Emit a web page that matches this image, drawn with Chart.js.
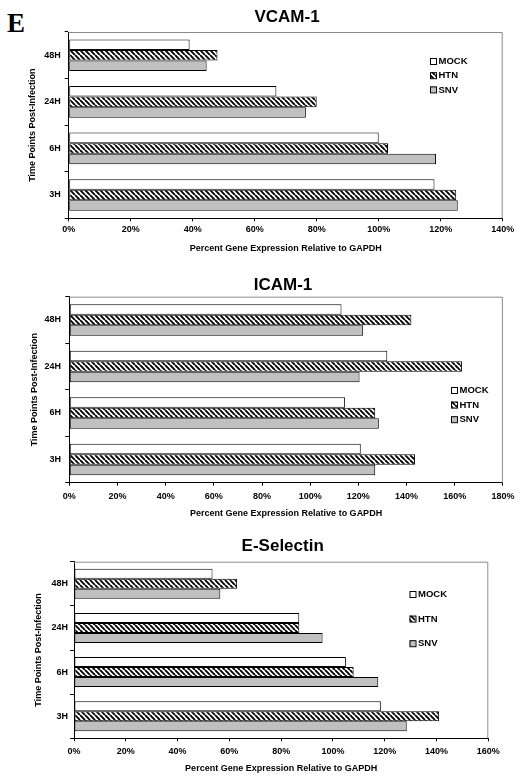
<!DOCTYPE html>
<html><head><meta charset="utf-8">
<script src="https://cdn.jsdelivr.net/npm/chart.js@4"></script>
<style>
html,body{margin:0;padding:0;background:#fff;}
#wrap{position:relative;width:520px;height:778px;overflow:hidden;}
canvas{position:absolute;left:0;}
#E{position:absolute;left:7px;top:10px;font-family:'Liberation Serif','DejaVu Serif',serif;font-weight:bold;font-size:27px;line-height:27px;color:#000;}
</style></head><body>
<div id="wrap">
<div id="E">E</div>
<canvas id="c1" width="520" height="260" style="top:0px"></canvas>
<canvas id="c2" width="520" height="260" style="top:260px"></canvas>
<canvas id="c3" width="520" height="258" style="top:520px"></canvas>
</div>
<script>
// ---- data ----
const categories = ['48H', '24H', '6H', '3H'];
const seriesNames = ['MOCK', 'HTN', 'SNV'];
const xTickSuffix = '%';
const yAxisTitle = 'Time Points Post-Infection';
const xAxisTitle = 'Percent Gene Expression Relative to GAPDH';

const vcamTitle = 'VCAM-1';
const vcamMax = 140;
const vcamMock = [39, 67, 100, 118];
const vcamHtn  = [48, 80, 103, 125];
const vcamSnv  = [44.5, 76.5, 118.5, 125.5];

const icamTitle = 'ICAM-1';
const icamMax = 180;
const icamMock = [113, 132, 114.5, 121];
const icamHtn  = [142, 163, 127, 143.5];
const icamSnv  = [122, 120.5, 128.5, 127];

const eselTitle = 'E-Selectin';
const eselMax = 160;
const eselMock = [53.5, 87, 105, 118.5];
const eselHtn  = [63, 87, 108, 141];
const eselSnv  = [56.5, 96, 117.5, 128.5];

// ---- styling ----
Chart.defaults.font.family = "'Liberation Sans', Arial, sans-serif";
Chart.defaults.color = '#000';

function hatch() {
  const p = 5;
  const c = document.createElement('canvas');
  c.width = p; c.height = p;
  const g = c.getContext('2d');
  g.fillStyle = '#fff'; g.fillRect(0, 0, p, p);
  g.strokeStyle = '#000'; g.lineWidth = 1.9;
  g.beginPath();
  for (let k = -1; k <= 1; k++) { g.moveTo(k * p, 0); g.lineTo(k * p + p, p); }
  g.stroke();
  return g.createPattern(c, 'repeat');
}
const HATCH = hatch();
const fills = ['#ffffff', HATCH, '#c0c0c0'];

const decor = {
  id: 'decor',
  afterDraw(chart, args, o) {
    const ctx = chart.ctx, a = chart.chartArea;
    ctx.save();
    // top/right frame
    ctx.strokeStyle = '#8a8a8a'; ctx.lineWidth = 1;
    ctx.beginPath();
    ctx.moveTo(a.left, a.top + 0.5); ctx.lineTo(a.right - 0.5, a.top + 0.5); ctx.lineTo(a.right - 0.5, a.bottom);
    ctx.stroke();
    // title
    ctx.fillStyle = '#000';
    ctx.font = "bold 17px 'Liberation Sans', Arial, sans-serif";
    ctx.textAlign = 'center'; ctx.textBaseline = 'middle';
    ctx.fillText(o.title, o.titleX, o.titleY);
    // legend
    ctx.font = "bold 9.5px 'Liberation Sans', Arial, sans-serif";
    ctx.textAlign = 'left';
    seriesNames.forEach((n, i) => {
      const y = o.legendY + i * o.legendGap;
      ctx.fillStyle = fills[i];
      ctx.fillRect(o.legendX, y - 3, 6, 6);
      ctx.strokeStyle = '#000'; ctx.lineWidth = 1;
      ctx.strokeRect(o.legendX + 0.5, y - 3 + 0.5, 6, 6);
      ctx.fillStyle = '#000';
      ctx.fillText(n, o.legendX + 8.5, y + 0.5);
    });
    ctx.restore();
  }
};

function makeChart(id, title, max, mock, htn, snv, g) {
  const canvas = document.getElementById(id);
  const H = canvas.height;
  const data = [mock, htn, snv];
  return new Chart(canvas, {
    type: 'bar',
    data: {
      labels: categories,
      datasets: seriesNames.map((n, i) => ({
        label: n,
        data: data[i],
        backgroundColor: fills[i],
        borderColor: '#000',
        borderWidth: 1,
        borderSkipped: false,
        barPercentage: 1,
        categoryPercentage: 0.68
      }))
    },
    options: {
      indexAxis: 'y',
      responsive: false,
      animation: false,
      devicePixelRatio: 1,
      layout: { padding: { top: g.T, right: 520 - g.R, left: 0, bottom: 0 } },
      plugins: {
        legend: { display: false },
        title: { display: false },
        tooltip: { enabled: false },
        decor: { title: title, titleX: g.titleX, titleY: g.titleY, legendX: g.legendX, legendY: g.legendY, legendGap: g.legendGap }
      },
      scales: {
        x: {
          min: 0, max: max,
          ticks: { stepSize: 20, padding: g.xPad, font: { size: 9, weight: 'bold' }, color: '#000', callback: v => v + xTickSuffix, maxRotation: 0 },
          grid: { drawOnChartArea: false, drawTicks: true, tickLength: 3, color: '#000' },
          border: { display: true, color: '#000', width: 1 },
          title: { display: true, text: xAxisTitle, font: { size: 9, weight: 'bold' }, color: '#000', padding: { top: 0, bottom: g.xTitleBottom } },
          afterFit: s => { s.height = H - g.B; }
        },
        y: {
          ticks: { padding: g.yPad, font: { size: 9, weight: 'bold' }, color: '#000' },
          grid: { drawOnChartArea: false, drawTicks: true, tickLength: 4, color: '#000', offset: true },
          border: { display: true, color: '#000', width: 1 },
          title: { display: true, text: yAxisTitle, font: { size: 9, weight: 'bold' }, color: '#000', padding: { top: g.yTitleTop, bottom: 0 } },
          afterFit: s => { s.width = g.L; }
        }
      }
    },
    plugins: [decor]
  });
}

makeChart('c1', vcamTitle, vcamMax, vcamMock, vcamHtn, vcamSnv,
  { L: 68.7, R: 502.7, T: 32, B: 218.3, titleX: 287, titleY: 17, legendX: 430, legendY: 61, legendGap: 14.2,
    xPad: 3.3, xTitleBottom: 6.3, yPad: 4, yTitleTop: 27.6 });
makeChart('c2', icamTitle, icamMax, icamMock, icamHtn, icamSnv,
  { L: 69.3, R: 503.3, T: 36.7, B: 222.7, titleX: 283, titleY: 25, legendX: 451, legendY: 130, legendGap: 14.6,
    xPad: 5.6, xTitleBottom: 1.3, yPad: 4.3, yTitleTop: 29.6 });
makeChart('c3', eselTitle, eselMax, eselMock, eselHtn, eselSnv,
  { L: 74, R: 488.3, T: 41.7, B: 218.3, titleX: 282.7, titleY: 26.7, legendX: 409.5, legendY: 74, legendGap: 24.6,
    xPad: 5.3, xTitleBottom: 4.3, yPad: 2, yTitleTop: 32.9 });
</script>
</body></html>
